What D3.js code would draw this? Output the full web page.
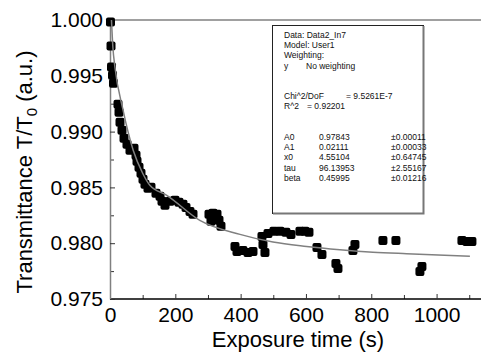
<!DOCTYPE html>
<html>
<head>
<meta charset="utf-8">
<script src="https://cdn.jsdelivr.net/npm/d3@7"></script>
<style>
  body { margin: 0; background: #fff; }
  svg { display: block; font-family: "Liberation Sans", Arial, sans-serif; }
</style>
</head>
<body>
<div id="chart"></div>
<script>
// measured points (exposure time in s, T/T0)
const timeS = [1.5, 3.1, 4.6, 7.7, 10.7, 24.5, 27.6, 30.6, 36.7, 42.9, 52.0, 61.2, 73.5, 79.6, 82.7,
  88.8, 94.9, 101.0, 107.1, 116.3, 125.5, 140.8, 153.1, 159.2, 168.4, 183.7, 199.0, 211.2, 223.5,
  232.7, 244.9, 254.1, 303.1, 315.3, 327.6, 309.2, 333.7, 339.8, 382.7, 388.8, 407.1, 422.4, 437.8,
  465.3, 468.4, 474.5, 483.7, 502.0, 520.4, 538.8, 554.1, 581.6, 596.9, 609.2, 633.7, 649.0, 691.8,
  698.0, 750.0, 743.9, 835.7, 875.5, 955.1, 949.0, 1077.6, 1092.9, 1108.2];
const transmittance = [0.99982, 0.99767, 0.99578, 0.99506, 0.99434, 0.99246, 0.99174, 0.99084, 0.99013,
  0.98941, 0.98887, 0.98833, 0.98851, 0.98788, 0.98734, 0.98680, 0.98627, 0.98573, 0.98528, 0.98492,
  0.98501, 0.98447, 0.98420, 0.98375, 0.98339, 0.98375, 0.98384, 0.98366, 0.98348, 0.98321, 0.98285,
  0.98259, 0.98259, 0.98268, 0.98259, 0.98196, 0.98205, 0.98151, 0.97971, 0.97926, 0.97935, 0.97917,
  0.97926, 0.98061, 0.97989, 0.97917, 0.98088, 0.98106, 0.98106, 0.98097, 0.98079, 0.98106, 0.98106,
  0.98097, 0.97962, 0.97899, 0.97819, 0.97774, 0.97989, 0.97935, 0.98025, 0.98025, 0.97792, 0.97747,
  0.98025, 0.98016, 0.98016];

// fitted curve
const fitX = [4.5, 9, 15, 40, 71, 100, 122, 174, 275, 398, 499, 602, 704, 805, 908, 1102];
const fitY = [1.0, 0.99749, 0.99581, 0.99192, 0.98833, 0.98627, 0.98519, 0.98429, 0.98205, 0.98079,
  0.98010, 0.97971, 0.97942, 0.97920, 0.97906, 0.97884];

const xTickLabels = [0, 200, 400, 600, 800, 1000];
const yTickLabels = [0.975, 0.980, 0.985, 0.990, 0.995, 1.000];

const fitReport = [
  ["Data: Data2_In7"],
  ["Model: User1"],
  ["Weighting:"],
  ["y", "No weighting"],
  [],
  [],
  ["Chi^2/DoF", "= 9.5261E-7"],
  ["R^2", "=  0.92201"],
  [],
  [],
  ["A0", "0.97843", "\u00b10.00011"],
  ["A1", "0.02111", "\u00b10.00033"],
  ["x0", "4.55104", "\u00b10.64745"],
  ["tau", "96.13953", "\u00b12.55167"],
  ["beta", "0.45995", "\u00b10.01216"]
];

const width = 481, height = 352;

const svg = d3.select("#chart").append("svg")
  .attr("width", width)
  .attr("height", height);

const x = d3.scaleLinear().domain([0, 1136]).range([110, 481]);
const y = d3.scaleLinear().domain([0.975, 1.0]).range([299, 20]);

// top frame line
svg.append("line")
  .attr("x1", x(0)).attr("x2", width)
  .attr("y1", y(1.0)).attr("y2", y(1.0))
  .attr("stroke", "#808080").attr("stroke-width", 1.5);

// minor ticks
const xMinor = d3.range(100, 1200, 200);
const yMinor = d3.range(0.9775, 1.0, 0.005);

svg.append("g")
  .attr("transform", "translate(0," + y(0.975) + ")")
  .call(d3.axisBottom(x).tickValues(xMinor).tickSize(-4).tickFormat(""))
  .call(g => g.select(".domain").remove());

svg.append("g")
  .attr("transform", "translate(" + x(0) + ",0)")
  .call(d3.axisLeft(y).tickValues(yMinor).tickSize(-4).tickFormat(""))
  .call(g => g.select(".domain").remove());

// main axes
const xAxis = svg.append("g")
  .attr("transform", "translate(0," + y(0.975) + ")")
  .call(d3.axisBottom(x).tickValues(xTickLabels).tickSize(-5).tickSizeOuter(0).tickPadding(8)
    .tickFormat(d3.format("d")));
xAxis.select(".domain").attr("stroke", "#000").attr("stroke-width", 1.5)
  .attr("d", "M" + x(0) + ",0H" + width);

const yAxis = svg.append("g")
  .attr("transform", "translate(" + x(0) + ",0)")
  .call(d3.axisLeft(y).tickValues(yTickLabels).tickSize(-5).tickSizeOuter(0).tickPadding(7)
    .tickFormat(d3.format(".3f")));
yAxis.select(".domain").attr("stroke", "#808080").attr("stroke-width", 1.5);

svg.selectAll(".tick line").attr("stroke", "#333");
svg.selectAll(".tick text")
  .attr("font-size", 21)
  .attr("font-family", "'Liberation Sans', Arial, sans-serif")
  .attr("fill", "#000");

// data squares
svg.append("g")
  .selectAll("rect")
  .data(timeS.map((t, i) => [t, transmittance[i]]))
  .enter().append("rect")
  .attr("x", d => x(d[0]) - 4.5)
  .attr("y", d => y(d[1]) - 4.5)
  .attr("width", 9)
  .attr("height", 9)
  .attr("rx", 2)
  .attr("fill", "#000");

// fit curve
const line = d3.line()
  .x(d => x(d[0]))
  .y(d => y(d[1]))
  .curve(d3.curveMonotoneX);

svg.append("path")
  .datum(fitX.map((t, i) => [t, fitY[i]]))
  .attr("d", line)
  .attr("fill", "none")
  .attr("stroke", "#808080")
  .attr("stroke-width", 1.5);

// axis titles
svg.append("text")
  .attr("x", 298)
  .attr("y", 347)
  .attr("text-anchor", "middle")
  .attr("font-size", 22)
  .text("Exposure time (s)");

const yTitle = svg.append("text")
  .attr("transform", "translate(32,172) rotate(-90)")
  .attr("text-anchor", "middle")
  .attr("font-size", 22);
yTitle.append("tspan").text("Transmittance T/T");
yTitle.append("tspan").attr("font-size", 15).attr("dy", 5).text("0");
yTitle.append("tspan").attr("dy", -5).text(" (a.u.)");

// fit report box
const box = svg.append("g");
box.append("rect")
  .attr("x", 272.5).attr("y", 25.5)
  .attr("width", 151).attr("height", 188)
  .attr("fill", "#fff")
  .attr("stroke", "#222").attr("stroke-width", 1);
box.append("path")
  .attr("d", "M423.5,26V213.5H273")
  .attr("fill", "none")
  .attr("stroke", "#777").attr("stroke-width", 2);

const colX = [284, 319, 391];
fitReport.forEach((row, i) => {
  const yy = 38 + i * 10.2;
  row.forEach((cell, j) => {
    let cx = colX[j];
    if (i === 3 && j === 1) cx = 306;
    if (i === 6 && j === 1) cx = 346;
    if (i === 7 && j === 1) cx = 307;
    box.append("text")
      .attr("x", cx)
      .attr("y", yy)
      .attr("font-size", 8.5)
      .attr("fill", "#111")
      .text(cell);
  });
});
</script>
</body>
</html>
